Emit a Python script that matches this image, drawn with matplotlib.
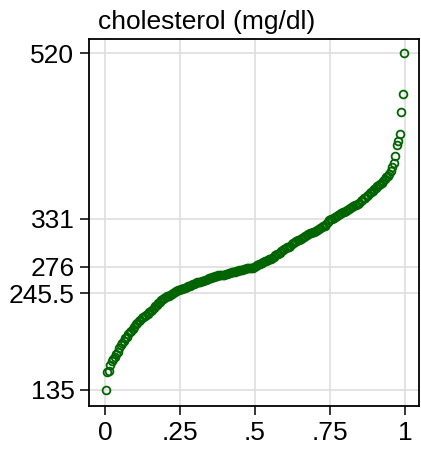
import numpy as np
import matplotlib
matplotlib.use("Agg")
import matplotlib.pyplot as plt

plt.rcParams['font.family'] = ['Liberation Sans', 'DejaVu Sans']

# sorted cholesterol readings (mg/dl), one per subject
chol = [
    135, 156, 157, 164, 168, 171, 173, 176, 179, 183,
    186, 189, 191, 194, 196, 199, 201, 203, 205, 207,
    210, 212, 214, 215, 217, 218, 220, 221, 222, 224,
    225, 227, 229, 231, 232, 234, 236, 238, 239, 240,
    241, 242, 243, 244, 245, 246, 247, 248, 249, 249,
    250, 251, 252, 252, 253, 254, 254, 255, 256, 256,
    257, 258, 258, 259, 260, 260, 261, 261, 262, 263,
    263, 264, 264, 265, 265, 266, 266, 266, 267, 267,
    268, 268, 269, 269, 270, 270, 270, 271, 271, 272,
    272, 272, 273, 273, 274, 274, 274, 275, 275, 276,
    277, 278, 279, 279, 280, 281, 282, 283, 284, 285,
    285, 286, 287, 289, 290, 291, 292, 294, 295, 296,
    297, 298, 299, 300, 302, 303, 304, 305, 306, 307,
    308, 309, 310, 311, 312, 313, 314, 315, 316, 316,
    317, 318, 319, 320, 321, 322, 323, 325, 327, 329,
    330, 331, 332, 333, 334, 335, 336, 337, 338, 339,
    340, 341, 342, 343, 344, 345, 346, 347, 348, 349,
    351, 352, 354, 355, 357, 358, 360, 361, 363, 365,
    366, 368, 369, 370, 372, 374, 376, 378, 380, 382,
    385, 390, 394, 403, 415, 420, 428, 453, 474, 520,
]

xticks = [0, 0.25, 0.5, 0.75, 1]
xlabels = ['0', '.25', '.5', '.75', '1']
yticks = [135, 245.5, 276, 331, 520]
ylabels = ['135', '245.5', '276', '331', '520']

y = np.sort(np.array(chol, dtype=float))
n = len(y)
frac = (np.arange(1, n + 1) - 0.5) / n

fig = plt.figure(figsize=(4.21, 4.49), dpi=100)
ax = fig.add_axes([0.2114, 0.0958, 0.7838, 0.8174])

ax.plot(frac, y, linestyle='none', marker='o', markersize=5.6,
        markerfacecolor='none', markeredgecolor='#006400', markeredgewidth=1.3)

ax.set_xlim(-0.054, 1.047)
ax.set_ylim(116.7, 536.4)
ax.set_xticks(xticks)
ax.set_xticklabels(xlabels)
ax.set_yticks(yticks)
ax.set_yticklabels(ylabels)

ax.grid(True, color='#dedede', linewidth=1.2)
ax.set_axisbelow(True)
ax.tick_params(axis='both', length=6.5, width=1.1, labelsize=19, pad=4)

for s in ax.spines.values():
    s.set_linewidth(1.3)
    s.set_color('black')

fig.text(0.233, 0.935, 'cholesterol (mg/dl)', fontsize=19, ha='left', va='baseline')

fig.savefig('out.png', dpi=100)
